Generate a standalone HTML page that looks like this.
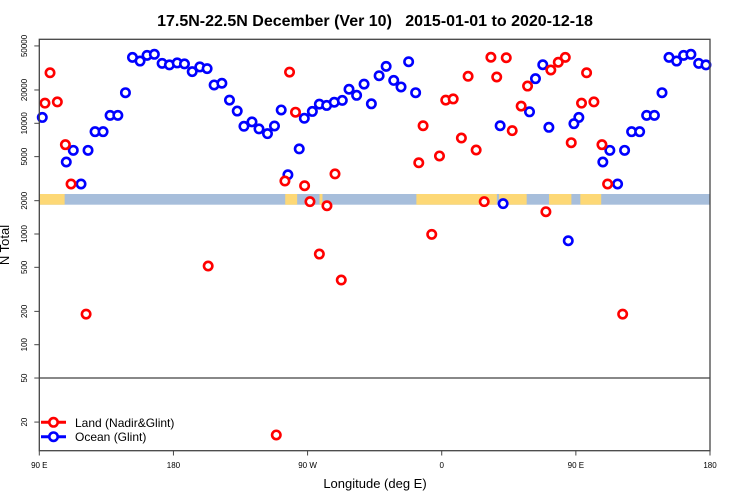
<!DOCTYPE html>
<html><head><meta charset="utf-8"><style>
html,body{margin:0;padding:0;background:#fff;}
svg{display:block;font-family:"Liberation Sans",Arial,sans-serif;}
</style></head><body>
<svg id="chart" width="750" height="500" viewBox="0 0 750 500" xmlns="http://www.w3.org/2000/svg">
<text x="375" y="26" text-anchor="middle" font-size="16" font-weight="bold" fill="#000" xml:space="preserve">17.5N-22.5N December (Ver 10)   2015-01-01 to 2020-12-18</text>
<g id="band"></g>
<line id="thr" x1="39" x2="710" stroke="#888" stroke-width="2"/>
<g id="marks"></g>
<rect x="39.3" y="39.3" width="670.7" height="411.4" fill="none" stroke="#444" stroke-width="1.3"/>
<g id="axes"></g>
<text x="375" y="488" text-anchor="middle" font-size="13">Longitude (deg E)</text>
<text transform="translate(9,245) rotate(-90)" text-anchor="middle" font-size="13">N Total</text>
<g>
<line x1="41" x2="66" y1="422.3" y2="422.3" stroke="#f00" stroke-width="3"/>
<circle cx="53.5" cy="422.3" r="4.2" fill="#fff" stroke="#f00" stroke-width="2.6"/>
<text x="75" y="427" font-size="12">Land (Nadir&amp;Glint)</text>
<line x1="41" x2="66" y1="436.7" y2="436.7" stroke="#00f" stroke-width="3"/>
<circle cx="53.5" cy="436.7" r="4.2" fill="#fff" stroke="#00f" stroke-width="2.6"/>
<text x="75" y="441" font-size="12">Ocean (Glint)</text>
</g>
</svg>
<script>
const oceanLon=[92.0,108.1,112.8,118.0,122.7,127.4,132.8,137.5,142.7,147.8,152.5,157.6,162.3,167.2,172.4,177.3,-177.5,-172.6,-167.4,-162.3,-157.4,-152.7,-147.5,-142.4,-137.2,-132.7,-127.3,-122.6,-116.9,-112.2,-107.7,-103.2,-95.6,-92.2,-86.8,-82.1,-77.2,-72.1,-66.7,-62.2,-57.1,-52.1,-47.2,-42.0,-37.3,-32.2,-27.3,-22.2,-17.5,39.2,41.2,58.9,62.9,67.8,71.9,84.9,88.7];
const oceanVal=[11300,4470,5700,2830,5700,8400,8400,11800,11800,18900,39400,36500,41100,42000,34800,33700,35100,34400,29300,32300,31200,22200,23000,16200,12900,9400,10300,8900,8060,9460,13200,3430,5870,11100,12800,14900,14500,15500,16100,20300,17900,22600,15000,26900,32700,24400,21300,36000,18900,9510,1880,12700,25300,33800,9200,869,9920];
const landLon=[93.8,97.2,102.1,107.5,111.3,121.4,-156.7,-105.2,-102.1,-98.1,-92.0,-88.4,-111.0,-82.1,-77.0,-71.6,-67.4,-15.4,-12.5,-6.7,-1.5,2.7,7.7,13.2,17.7,23.1,28.5,33.0,36.9,43.3,47.3,53.3,57.6,69.9,73.2,78.2,82.9,86.9];
const landVal=[15200,28600,15600,6410,2830,189,514,3010,29000,12600,2730,1960,15.3,659,1800,3490,384,4400,9510,993,5070,16200,16600,7360,26600,5740,1960,39500,26200,39100,8580,14300,21700,1590,30300,35600,39400,6680];
const yTicks=[50000,20000,10000,5000,2000,1000,500,200,100,50,20];
const xTicks=[90,180,270,360,450,540];
const xTickLabels=["90 E","180","90 W","0","90 E","180"];
const landSegs=[[90,107],[255,263],[278,280],[343,397],[398.5,417],[432,447],[453,467]];
const NS="http://www.w3.org/2000/svg";
const X0=39.3,X1=710,LON0=90,LON1=540;
const xs=l=>X0+(l-LON0)*(X1-X0)/(LON1-LON0);
const ys=v=>123.3-(Math.log10(v)-4)*110.7;
function mk(tag,attrs,parent){const e=document.createElementNS(NS,tag);for(const k in attrs)e.setAttribute(k,attrs[k]);parent.appendChild(e);return e;}
const band=document.getElementById('band');
let r=mk('rect',{x:X0,y:194,width:X1-X0,height:10.7,fill:'#a7bedb'},band);


landSegs.forEach(s=>{const e=mk('rect',{x:xs(s[0]),y:194,width:xs(s[1])-xs(s[0]),height:10.7,fill:'#fdd876'},band);

});
const thr=document.getElementById('thr');thr.setAttribute('y1',ys(50));thr.setAttribute('y2',ys(50));
const axes=document.getElementById('axes');
yTicks.forEach(v=>{const y=ys(v);
const t=mk('line',{x1:X0,x2:X0-5,y1:y,y2:y,stroke:'#444','stroke-width':1},axes);


const l=mk('text',{transform:`translate(27,${y}) rotate(-90)`,'text-anchor':'middle','font-size':8},axes);l.textContent=v;

});
xTicks.forEach((v,i)=>{const x=xs(v);
const t=mk('line',{x1:x,x2:x,y1:450.7,y2:455.5,stroke:'#444','stroke-width':1},axes);


const l=mk('text',{x:x,y:468,'text-anchor':'middle','font-size':8},axes);l.textContent=xTickLabels[i];

});
const marks=document.getElementById('marks');
function plot(lons,vals,color,name){lons.forEach((lo,i)=>{let base=lo<0?lo+360:lo;
for(let k=-1;k<=2;k++){const L=base+360*k;if(L<LON0||L>LON1)continue;
const c=mk('circle',{cx:xs(L),cy:ys(vals[i]),r:4.2,fill:'#fff',stroke:color,'stroke-width':2.6},marks);

}});}
plot(oceanLon,oceanVal,'#00f','ocean-point');
plot(landLon,landVal,'#f00','land-point');
</script>
</body></html>
